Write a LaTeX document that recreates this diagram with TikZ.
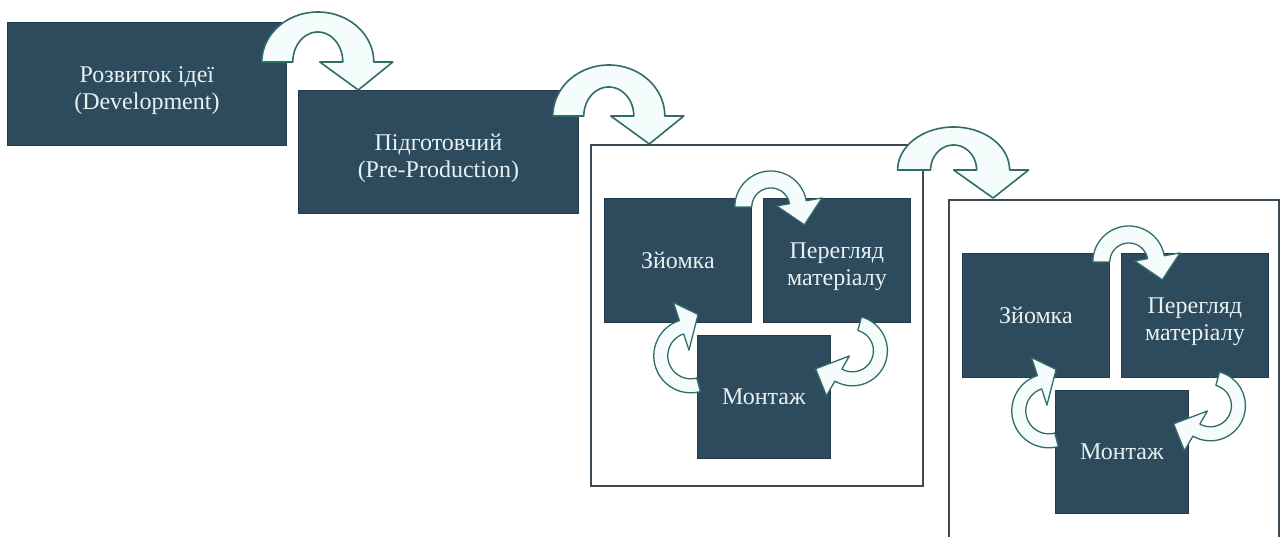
\documentclass[tikz,border=0pt]{standalone}
\usepackage{fontspec}
\setmainfont{Liberation Serif}
\usetikzlibrary{calc}
\definecolor{boxfill}{RGB}{46,75,94}
\definecolor{boxedge}{RGB}{36,58,74}
\definecolor{txt}{RGB}{232,241,241}
\definecolor{arrfill}{RGB}{245,252,252}
\definecolor{arredge}{RGB}{50,108,102}
\definecolor{frameedge}{RGB}{58,74,84}
\newcommand\lowstrut{\rule{0pt}{29pt}}
% big curved arrow: #1 centre, #2 outer x-radius, #3 outer y-radius, #4 inner x-radius, #5 inner y-radius
\newcommand\bigarr[5]{%
  \begin{scope}[shift={#1}]
    \filldraw[arr] plot[domain=180:360,samples=50] ({#2*cos(\x)},{#3*sin(\x)})
      -- ({#2+19},0) -- ({(#2+#4)/2},28) -- ({#4-23},0)
      -- plot[domain=360:180,samples=50] ({#4*cos(\x)},{#5*sin(\x)}) -- cycle;
  \end{scope}}
% small circular arrow: #1 centre, #2 inner r, #3 outer r, #4 start angle, #5 end angle,
% #6 head inner r, #7 head outer r, #8 tip angle, #9 tip r
\newcommand\cycarr[9]{%
  \begin{scope}[shift={#1}]
    \filldraw[arr,line width=1.3pt] plot[domain=#4:#5,samples=50] ({#3*cos(\x)},{#3*sin(\x)})
      -- (#5:#7) -- (#8:#9) -- (#5:#6) -- (#5:#2)
      -- plot[domain=#5:#4,samples=50] ({#2*cos(\x)},{#2*sin(\x)}) -- cycle;
  \end{scope}}
\begin{document}
\begin{tikzpicture}[x=1pt,y=-1pt,
  stage/.style={draw=boxedge, fill=boxfill, text=txt, inner sep=0pt, anchor=north west,
    align=center, font=\fontsize{24}{27}\selectfont, line width=0.8pt},
  framebox/.style={draw=frameedge, fill=white, line width=1.6pt, inner sep=0pt, anchor=north west},
  arr/.style={fill=arrfill, draw=arredge, line width=1.6pt, line join=round}]
\useasboundingbox (0,0) rectangle (1280,537);
% stages
\node[stage, minimum width=279pt, minimum height=123pt] (dev) at (7,22) {\lowstrut Розвиток ідеї\\(Development)};
\node[stage, minimum width=280pt, minimum height=123pt] (pre) at (298,90) {\lowstrut Підготовчий\\(Pre-Production)};
% production frame
\node[framebox, minimum width=332pt, minimum height=341pt] (frameA) at (590,144) {};
\node[stage, minimum width=147pt, minimum height=124pt] (shootA) at (604,198) {Зйомка};
\node[stage, minimum width=147pt, minimum height=124pt] (reviewA) at (763,198) {\lowstrut Перегляд\\матеріалу};
\node[stage, minimum width=133pt, minimum height=123pt] (editA) at (697,335) {Монтаж};
% post-production frame
\node[framebox, minimum width=330pt, minimum height=345pt] (frameB) at (948,199) {};
\node[stage, minimum width=147pt, minimum height=124pt] (shootB) at (962,253) {Зйомка};
\node[stage, minimum width=147pt, minimum height=124pt] (reviewB) at (1121,253) {\lowstrut Перегляд\\матеріалу};
\node[stage, minimum width=133pt, minimum height=123pt] (editB) at (1055,390) {Монтаж};
% big arrows between stages
\bigarr{($(dev.north east)+(31,40)$)}{56}{50}{25}{30}
\bigarr{($(pre.north east)+(30,26)$)}{56}{51}{25}{29}
\bigarr{($(frameA.north east)+(30,26)$)}{56}{43}{23}{25}
% cycle arrows, frame A
\cycarr{($(shootA.north east)+(19,9)$)}{19}{36}{180}{350}{6}{52}{28}{38}
\cycarr{($(reviewA.south)+(15.5,28)$)}{21}{35}{285}{480}{6}{52}{154}{41}
\cycarr{($(shootA.south east)+(-61,33)$)}{23}{37}{75}{252}{6}{56}{280}{42}
% cycle arrows, frame B
\cycarr{($(shootB.north east)+(19,9)$)}{19}{36}{180}{350}{6}{52}{28}{38}
\cycarr{($(reviewB.south)+(15.5,28)$)}{21}{35}{285}{480}{6}{52}{154}{41}
\cycarr{($(shootB.south east)+(-61,33)$)}{23}{37}{75}{252}{6}{56}{280}{42}
\end{tikzpicture}
\end{document}
